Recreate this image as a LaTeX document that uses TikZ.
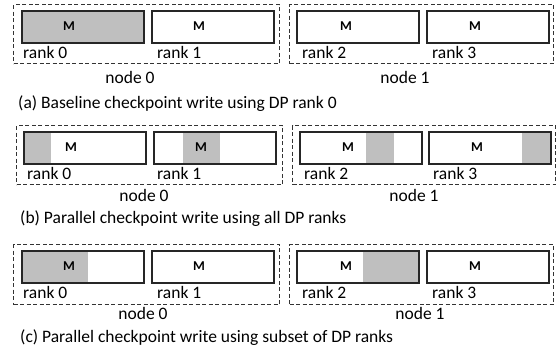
\documentclass[tikz,border=0pt]{standalone}
\usepackage{fontspec}
\setmainfont{Carlito}
\definecolor{boxline}{HTML}{262626}
\definecolor{dashline}{HTML}{333333}
\definecolor{fillgray}{HTML}{BFBFBF}
\tikzset{
  rankbox/.style={draw=boxline, line width=1.8pt, minimum width=122pt, minimum height=32pt, inner sep=0pt, anchor=north west},
  nodebox/.style={draw=dashline, line width=1.3pt, dash pattern=on 4pt off 2.5pt, inner sep=0pt, anchor=north west},
  graybar/.style={fill=fillgray},
  lbl/.style={font=\fontsize{17.5}{20}\selectfont, inner sep=0pt, anchor=base west, text=black},
  nlbl/.style={font=\fontsize{17.5}{20}\selectfont, inner sep=0pt, anchor=base, text=black},
  mlbl/.style={font=\fontsize{13.5}{15}\selectfont\bfseries, inner sep=0pt, text=black},
}
\begin{document}
\begin{tikzpicture}[x=1pt,y=-1pt]
\useasboundingbox (0,0) rectangle (556,356);
% ---------- row a
\node[nodebox, minimum width=266pt, minimum height=59pt] (an0) at (13,4) {};
\node[nodebox, minimum width=264pt, minimum height=59pt] (an1) at (289,4) {};
\path[graybar] (21,10) rectangle (143,42);
\node[rankbox] (a0) at (21,10) {};
\node[mlbl] (a0m) at (69,26) {M};
\node[lbl] (a0l) at (23,58) {rank 0};
\node[rankbox] (a1) at (151,10) {};
\node[mlbl] (a1m) at (199,26) {M};
\node[lbl] (a1l) at (157,58) {rank 1};
\node[rankbox] (a2) at (296,10) {};
\node[mlbl] (a2m) at (346,26) {M};
\node[lbl] (a2l) at (302,58) {rank 2};
\node[rankbox] (a3) at (426,10) {};
\node[mlbl] (a3m) at (475,26) {M};
\node[lbl] (a3l) at (432,58) {rank 3};
\node[nlbl] (an0l) at (130,83) {node 0};
\node[nlbl] (an1l) at (405,83) {node 1};
\node[lbl] (acap) at (18,108) {(a) Baseline checkpoint write using DP rank 0};
% ---------- row b
\node[nodebox, minimum width=266pt, minimum height=59pt] (bn0) at (16,125) {};
\node[nodebox, minimum width=263pt, minimum height=59pt] (bn1) at (292,125) {};
\path[graybar] (23,131) rectangle (23+0.23*122,163);
\node[rankbox] (b0) at (23,131) {};
\node[mlbl] (b0m) at (71,147) {M};
\node[lbl] (b0l) at (27,179) {rank 0};
\path[graybar] (153+0.245*122,131) rectangle (153+0.55*122,163);
\node[rankbox] (b1) at (153,131) {};
\node[mlbl] (b1m) at (201,147) {M};
\node[lbl] (b1l) at (157,179) {rank 1};
\path[graybar] (299+0.55*122,131) rectangle (299+0.775*122,163);
\node[rankbox] (b2) at (299,131) {};
\node[mlbl] (b2m) at (348,147) {M};
\node[lbl] (b2l) at (304,179) {rank 2};
\path[graybar] (428+0.77*122,131) rectangle (428+122,163);
\node[rankbox] (b3) at (428,131) {};
\node[mlbl] (b3m) at (477,147) {M};
\node[lbl] (b3l) at (433,179) {rank 3};
\node[nlbl] (bn0l) at (144,201) {node 0};
\node[nlbl] (bn1l) at (414,201) {node 1};
\node[lbl] (bcap) at (20,223) {(b) Parallel checkpoint write using all DP ranks};
% ---------- row c
\node[nodebox, minimum width=266pt, minimum height=60pt] (cn0) at (13,244) {};
\node[nodebox, minimum width=264pt, minimum height=60pt] (cn1) at (289,244) {};
\path[graybar] (21,250) rectangle (21+0.55*122,282);
\node[rankbox] (c0) at (21,250) {};
\node[mlbl] (c0m) at (69,266) {M};
\node[lbl] (c0l) at (23,298) {rank 0};
\node[rankbox] (c1) at (151,250) {};
\node[mlbl] (c1m) at (199,266) {M};
\node[lbl] (c1l) at (157,298) {rank 1};
\path[graybar] (296+0.55*122,250) rectangle (296+122,282);
\node[rankbox] (c2) at (296,250) {};
\node[mlbl] (c2m) at (346,266) {M};
\node[lbl] (c2l) at (302,298) {rank 2};
\node[rankbox] (c3) at (426,250) {};
\node[mlbl] (c3m) at (475,266) {M};
\node[lbl] (c3l) at (432,298) {rank 3};
\node[nlbl] (cn0l) at (143,319) {node 0};
\node[nlbl] (cn1l) at (420,319) {node 1};
\node[lbl] (ccap) at (20,342) {(c) Parallel checkpoint write using subset of DP ranks};
\end{tikzpicture}
\end{document}
